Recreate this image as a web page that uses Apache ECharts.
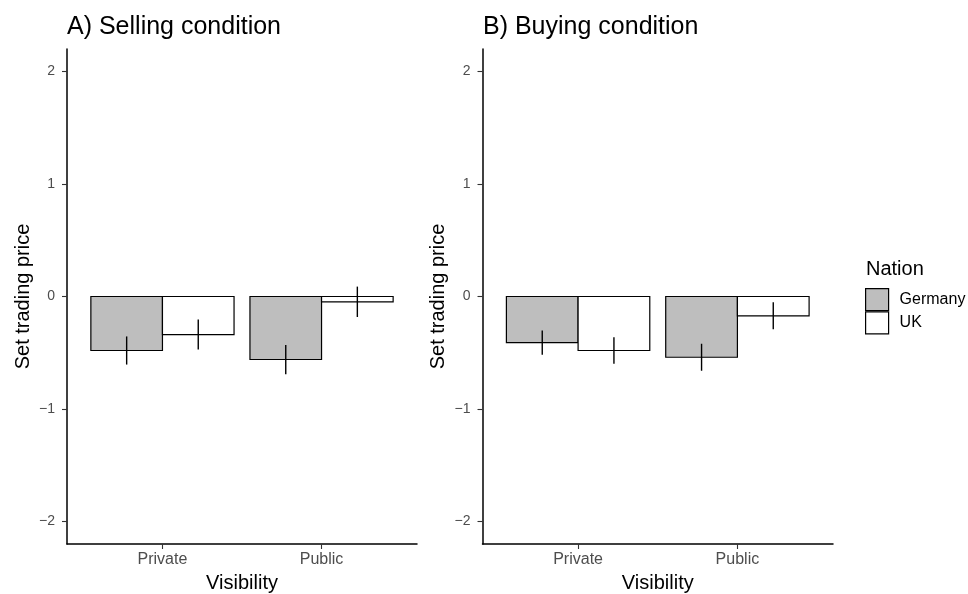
<!DOCTYPE html>
<html>
<head>
<meta charset="utf-8">
<script src="https://cdn.jsdelivr.net/npm/echarts@6/dist/echarts.min.js"></script>
<style>
html,body{margin:0;padding:0;background:#fff;}
#chart{width:968px;height:594px;}
</style>
</head>
<body>
<div id="chart"></div>
<script>
// ---- data ----
var categories = ['Private', 'Public'];
var yTicks = [-2, -1, 0, 1, 2];
var panelTitles = ['A) Selling condition', 'B) Buying condition'];
var nations = ['Germany', 'UK'];

var sellGermany    = [-0.48, -0.56];
var sellGermanyErr = [0.125, 0.13];
var sellUK         = [-0.338, -0.047];
var sellUKErr      = [0.133, 0.135];

var buyGermany     = [-0.41, -0.54];
var buyGermanyErr  = [0.108, 0.12];
var buyUK          = [-0.48, -0.172];
var buyUKErr       = [0.117, 0.12];

// ---- chart ----
var FONT = "'Liberation Sans', Arial, Helvetica, sans-serif";
var fills = { Germany: '#bebebe', UK: '#ffffff' };
var dodge = { Germany: -0.225, UK: 0.225 };
var halfW = 0.225;

function toData(vals, errs) {
  return vals.map(function (v, i) { return [i + 1, v, errs[i]]; });
}

function makeSeries(name, gridIdx, vals, errs) {
  return {
    type: 'custom',
    name: name,
    xAxisIndex: gridIdx,
    yAxisIndex: gridIdx,
    clip: false,
    itemStyle: { color: fills[name], borderColor: '#000', borderWidth: 1.2 },
    data: toData(vals, errs),
    renderItem: function (params, api) {
      var x = api.value(0) + dodge[name];
      var v = api.value(1);
      var e = api.value(2);
      var p0 = api.coord([x - halfW, 0]);
      var p1 = api.coord([x + halfW, v]);
      var e0 = api.coord([x, v - e]);
      var e1 = api.coord([x, v + e]);
      return {
        type: 'group',
        children: [
          {
            type: 'rect',
            shape: {
              x: p0[0],
              y: Math.min(p0[1], p1[1]),
              width: p1[0] - p0[0],
              height: Math.abs(p1[1] - p0[1])
            },
            style: { fill: fills[name], stroke: '#000', lineWidth: 1.2 }
          },
          {
            type: 'line',
            shape: { x1: e0[0], y1: e0[1], x2: e1[0], y2: e1[1] },
            style: { stroke: '#000', lineWidth: 1.4 }
          }
        ]
      };
    }
  };
}

function xAxisDef(gridIdx) {
  return {
    type: 'value',
    gridIndex: gridIdx,
    min: 0.4,
    max: 2.6,
    name: 'Visibility',
    nameLocation: 'middle',
    nameGap: 29,
    nameTextStyle: { fontFamily: FONT, fontSize: 20, color: '#000' },
    axisLine: { show: true, onZero: false, lineStyle: { color: '#000', width: 1.5 } },
    axisTick: { show: true, length: 5, customValues: [1, 2], lineStyle: { color: '#333', width: 1.1 } },
    axisLabel: {
      customValues: [1, 2],
      margin: 8,
      fontFamily: FONT, fontSize: 16, color: '#4d4d4d',
      formatter: function (v) { return categories[Math.round(v) - 1]; }
    },
    splitLine: { show: false }
  };
}

function yAxisDef(gridIdx) {
  return {
    type: 'value',
    gridIndex: gridIdx,
    min: -2.2,
    max: 2.2,
    name: 'Set trading price',
    nameLocation: 'middle',
    nameGap: 34,
    nameTextStyle: { fontFamily: FONT, fontSize: 20, color: '#000' },
    axisLine: { show: true, onZero: false, lineStyle: { color: '#000', width: 1.5 } },
    axisTick: { show: true, length: 5, customValues: yTicks, lineStyle: { color: '#333', width: 1.1 } },
    axisLabel: {
      customValues: yTicks,
      margin: 12,
      fontFamily: FONT, fontSize: 14, color: '#4d4d4d',
      formatter: function (v) { return v < 0 ? '\u2212' + Math.abs(v) : String(v); }
    },
    splitLine: { show: false }
  };
}

var chart = echarts.init(document.getElementById('chart'), null, { renderer: 'canvas' });
chart.setOption({
  backgroundColor: '#fff',
  animation: false,
  title: [
    { text: panelTitles[0], left: 67, top: 15, padding: 0, textStyle: { fontFamily: FONT, fontSize: 25, fontWeight: 'normal', color: '#000' } },
    { text: panelTitles[1], left: 483, top: 15, padding: 0, textStyle: { fontFamily: FONT, fontSize: 25, fontWeight: 'normal', color: '#000' } },
    { text: 'Nation', left: 866, top: 259, padding: 0, textStyle: { fontFamily: FONT, fontSize: 20, fontWeight: 'normal', color: '#000' } }
  ],
  legend: {
    orient: 'vertical',
    left: 865,
    top: 288,
    padding: 0,
    itemWidth: 23,
    itemHeight: 22,
    itemGap: 0,
    icon: 'rect',
    selectedMode: false,
    textStyle: { fontFamily: FONT, fontSize: 16, color: '#000', padding: [0, 0, 0, 6] },
    data: [
      { name: nations[0], itemStyle: { color: fills.Germany, borderColor: '#000', borderWidth: 1.2 } },
      { name: nations[1], itemStyle: { color: fills.UK, borderColor: '#000', borderWidth: 1.2 } }
    ]
  },
  grid: [
    { left: 67, top: 49, width: 350, height: 495, containLabel: false, outerBoundsMode: 'none' },
    { left: 482.5, top: 49, width: 350.5, height: 495, containLabel: false, outerBoundsMode: 'none' }
  ],
  xAxis: [xAxisDef(0), xAxisDef(1)],
  yAxis: [yAxisDef(0), yAxisDef(1)],
  series: [
    makeSeries('Germany', 0, sellGermany, sellGermanyErr),
    makeSeries('UK', 0, sellUK, sellUKErr),
    makeSeries('Germany', 1, buyGermany, buyGermanyErr),
    makeSeries('UK', 1, buyUK, buyUKErr)
  ]
});
</script>
</body>
</html>
